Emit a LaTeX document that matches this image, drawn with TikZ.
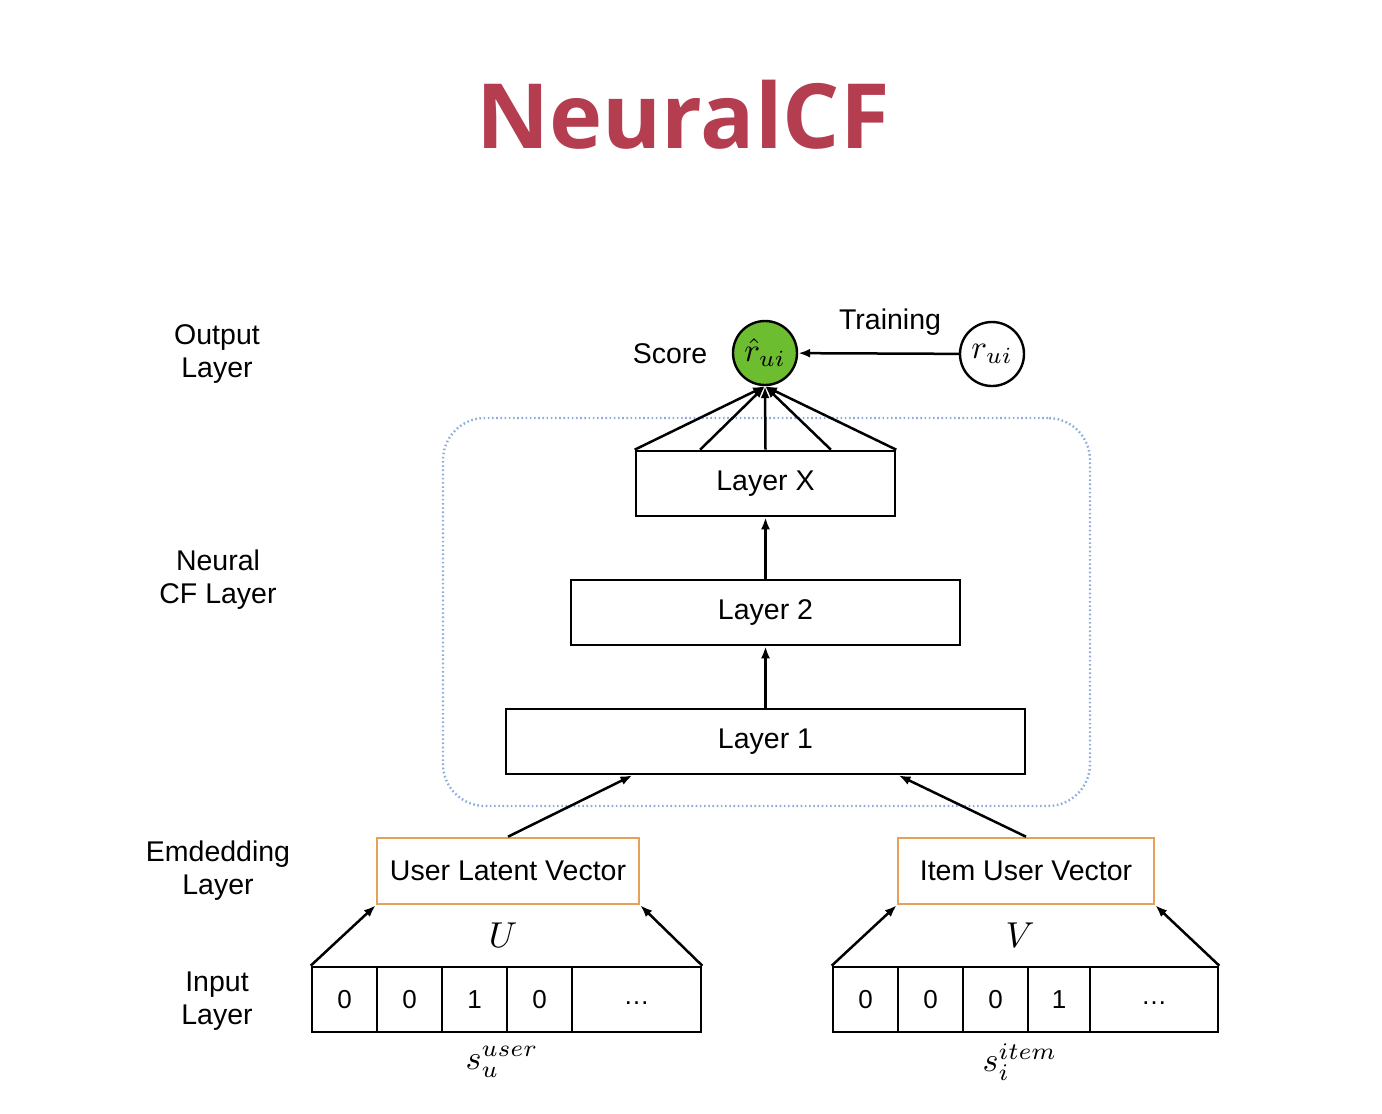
\documentclass[tikz,border=0pt]{standalone}
\usepackage{fontspec}
\setmainfont{Liberation Sans}
\newfontfamily\titlefont{Open Sans Bold}
\usetikzlibrary{arrows.meta,calc}
\definecolor{titlered}{RGB}{180,62,80}
\definecolor{scoregreen}{RGB}{108,190,48}
\definecolor{embedorange}{RGB}{230,160,90}
\definecolor{dotblue}{RGB}{140,172,218}
\newcommand\scaledmath[2]{\scalebox{#1}{\normalsize$#2$}}
\begin{document}
\begin{tikzpicture}[x=1pt,y=-1pt,
  font=\fontsize{28.5}{33}\selectfont,
  layerbox/.style={draw,line width=2.6pt,minimum width=#1,minimum height=65pt,inner sep=0pt},
  embbox/.style={draw=embedorange,line width=2.6pt,minimum width=#1,minimum height=66pt,inner sep=0pt},
  cell/.style={draw,line width=2.6pt,minimum width=#1,minimum height=65pt,inner sep=0pt,font=\fontsize{26}{30}\selectfont},
  sidelabel/.style={align=center},
  arr/.style={-{Latex[length=12pt,width=9pt]},line width=2.5pt},
  mathlbl/.style={inner sep=0pt},
  circ/.style={circle,draw,line width=2.4pt,minimum size=64pt,inner sep=0pt}
]
\useasboundingbox (0,0) rectangle (1382,1114);

% title
\node (title) at (683,115) {\titlefont\fontsize{90}{96}\selectfont\color{titlered}NeuralCF};

% side labels
\node[sidelabel] (lout) at (217,354) {Output\\Layer};
\node[sidelabel] (lncf) at (218,580) {Neural\\CF Layer};
\node[sidelabel] (lemb) at (218,871) {Emdedding\\Layer};
\node[sidelabel] (linp) at (217,1001) {Input\\Layer};

% neural CF region
\node[draw=dotblue,line width=2.4pt,dash pattern=on 1.6pt off 2.6pt,rounded corners=42pt,
      minimum width=647pt,minimum height=388pt] (ncf) at (766.5,612) {};

% layers
\node[layerbox=259pt] (lx) at (765.5,483.5) {Layer X};
\node[layerbox=389pt] (l2) at (765.5,612.5) {Layer 2};
\node[layerbox=519pt] (l1) at (765.5,741.5) {Layer 1};

% score
\node[circ,fill=scoregreen] (score) at (765,353) {\scaledmath{3.3}{\hat{r}_{ui}}};
\node (scorelbl) at (670,354) {Score};
\node[circ,fill=white] (truth) at (992,354) {\scaledmath{3.3}{r_{ui}}};
\draw[arr] (truth) -- (score);
\node (trainlbl) at (890,322) {Training};

% fan from Layer X
\coordinate (f1) at ($(lx.north west)!0.25!(lx.north east)$);
\coordinate (f2) at ($(lx.north west)!0.5!(lx.north east)$);
\coordinate (f3) at ($(lx.north west)!0.75!(lx.north east)$);
\draw[arr] (lx.north west) -- (score.south);
\draw[arr] (f1) -- (score.south);
\draw[arr] (f2) -- (score.south);
\draw[arr] (f3) -- (score.south);
\draw[arr] (lx.north east) -- (score.south);

% layer arrows
\draw[arr] (l1.north) -- (l2.south);
\draw[arr] (l2.north) -- (lx.south);

% embedding boxes
\node[embbox=262pt] (ulv) at (508,871) {User Latent Vector};
\node[embbox=256pt] (iuv) at (1026,871) {Item User Vector};

\coordinate (l1a) at ($(l1.south west)!0.245!(l1.south east)$);
\coordinate (l1b) at ($(l1.south west)!0.755!(l1.south east)$);
\draw[arr] (ulv.north) -- (l1a);
\draw[arr] (iuv.north) -- (l1b);

% user input vector
\node[cell=65pt] (ua) at (344.5,999.5) {0};
\node[cell=65pt] (ub) at (409.5,999.5) {0};
\node[cell=65pt] (uc) at (474.5,999.5) {1};
\node[cell=65pt] (ud) at (539.5,999.5) {0};
\node[cell=129pt] (ue) at (636.5,999.5) {\vphantom{0}\raisebox{4pt}{\dots}};

% item input vector
\node[cell=65pt] (ia) at (865.5,999.5) {0};
\node[cell=65pt] (ib) at (930.5,999.5) {0};
\node[cell=65pt] (ic) at (995.5,999.5) {0};
\node[cell=62pt] (id) at (1059,999.5) {1};
\node[cell=128pt] (ie) at (1154,999.5) {\vphantom{0}\raisebox{4pt}{\dots}};

% input -> embedding
\draw[arr] (ua.north west) -- (ulv.south west);
\draw[arr] (ue.north east) -- (ulv.south east);
\draw[arr] (ia.north west) -- (iuv.south west);
\draw[arr] (ie.north east) -- (iuv.south east);

% math labels
\node[mathlbl] (U) at (503,935) {\scaledmath{3.6}{U}};
\node[mathlbl] (V) at (1020,935) {\scaledmath{3.6}{V}};
\node[mathlbl] (su) at (502,1062) {\scaledmath{3.4}{s_u^{user}}};
\node[mathlbl] (si) at (1020,1062) {\scaledmath{3.4}{s_i^{item}}};
\end{tikzpicture}
\end{document}
